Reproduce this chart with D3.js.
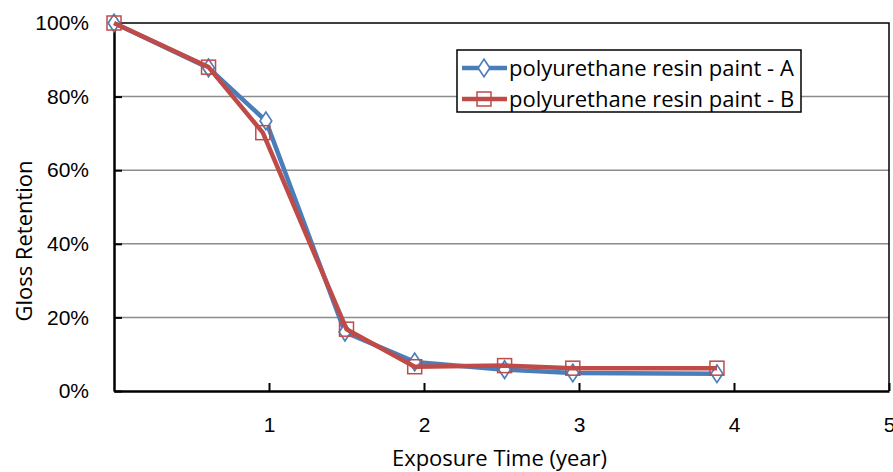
<!DOCTYPE html>
<html>
<head>
<meta charset="utf-8">
<script src="https://cdn.jsdelivr.net/npm/d3@7"></script>
<style>
  body { margin: 0; background: #fff; }
  text { font-family: "Open Sans", sans-serif; fill: #000; }
</style>
</head>
<body>
<div class="chart"></div>
<script>
// values
var seriesNames = ["polyurethane resin paint - A", "polyurethane resin paint - B"];
var yearsA = [0, 0.61, 0.98, 1.49, 1.94, 2.52, 2.96, 3.89];
var glossA = [100, 87.8, 73.4, 16.0, 7.9, 5.8, 4.9, 4.7];
var yearsB = [0, 0.61, 0.96, 1.50, 1.94, 2.52, 2.96, 3.89];
var glossB = [100, 88.0, 70.2, 16.8, 6.6, 6.9, 6.2, 6.2];
var xTicks = [1, 2, 3, 4, 5];
var yTicks = [0, 20, 40, 60, 80, 100];

var width = 893, height = 472;
var margin = {top: 23, right: 4, bottom: 81, left: 114};

var svg = d3.select(".chart")
        .append("svg")
        .attr("width", width)
        .attr("height", height);

var x = d3.scaleLinear().domain([0, 5]).range([margin.left, width - margin.right]);
var y = d3.scaleLinear().domain([0, 100]).range([height - margin.bottom, margin.top]);

// gridlines
svg.append("g")
        .selectAll("line")
        .data(yTicks.filter(function(d) { return d > 0 && d < 100; }))
        .enter()
        .append("line")
        .attr("x1", x(0))
        .attr("x2", x(5))
        .attr("y1", function(d) { return y(d); })
        .attr("y2", function(d) { return y(d); })
        .style("stroke", "#8c8c8c")
        .style("stroke-width", 1.5);

// plot border (top + right)
svg.append("path")
        .attr("d", "M" + x(0) + "," + y(100) + "H" + x(5) + "V" + y(0))
        .style("fill", "none")
        .style("stroke", "#000")
        .style("stroke-width", 1.5);

var xAxis = svg.append("g")
        .attr("transform", "translate(0," + y(0) + ")")
        .call(d3.axisBottom(x).tickValues(xTicks).tickSizeInner(-8).tickSizeOuter(0).tickPadding(26)
          .tickFormat(function(d) { return d; }));
var yAxis = svg.append("g")
        .attr("transform", "translate(" + x(0) + ",0)")
        .call(d3.axisLeft(y).tickValues(yTicks).tickSizeInner(-8).tickSizeOuter(0).tickPadding(25)
          .tickFormat(function(d) { return d + "%"; }));

[xAxis, yAxis].forEach(function(a) {
  a.select(".domain").style("stroke", "#000").style("stroke-width", 2.5);
  a.selectAll(".tick line").style("stroke", "#000").style("stroke-width", 2);
  a.selectAll("text").style("font-size", "21px").style("font-family", "'Liberation Sans', sans-serif");
});

// axis titles
svg.append("text")
        .attr("x", x(2.5) - 2)
        .attr("y", 466)
        .style("text-anchor", "middle")
        .style("font-size", "22px")
        .text("Exposure Time (year)");

svg.append("text")
        .attr("transform", "translate(32," + 241 + ") rotate(-90)")
        .style("text-anchor", "middle")
        .style("font-size", "22px")
        .text("Gloss Retention");

var line = d3.line()
        .x(function(d) { return x(d[0]); })
        .y(function(d) { return y(d[1]); });

var dataA = d3.zip(yearsA, glossA);
var dataB = d3.zip(yearsB, glossB);

var colorA = "#4a7ebb", colorB = "#be4b48";

// series A
svg.append("path")
        .datum(dataA)
        .attr("d", line)
        .style("fill", "none")
        .style("stroke", colorA)
        .style("stroke-width", 4.5)
        .style("stroke-linejoin", "round");
var diamond = d3.symbol().type(d3.symbolDiamond).size(90);
svg.append("g")
        .selectAll("path")
        .data(dataA)
        .enter()
        .append("path")
        .attr("d", diamond)
        .attr("transform", function(d) { return "translate(" + x(d[0]) + "," + y(d[1]) + ") scale(1.15,1)"; })
        .style("fill", "#fff")
        .style("stroke", colorA)
        .style("stroke-width", 1.5);

// series B
svg.append("path")
        .datum(dataB)
        .attr("d", line)
        .style("fill", "none")
        .style("stroke", colorB)
        .style("stroke-width", 4.5)
        .style("stroke-linejoin", "round");
svg.append("g")
        .selectAll("rect")
        .data(dataB)
        .enter()
        .append("rect")
        .attr("x", function(d) { return x(d[0]) - 7; })
        .attr("y", function(d) { return y(d[1]) - 7; })
        .attr("width", 14)
        .attr("height", 14)
        .style("fill", "none")
        .style("stroke", colorB)
        .style("stroke-width", 1.5);

// legend
var legend = svg.append("g").attr("transform", "translate(457,50)");
legend.append("rect")
        .attr("width", 344)
        .attr("height", 62)
        .style("fill", "#fff")
        .style("stroke", "#000")
        .style("stroke-width", 1.5);

var rows = legend.selectAll(".row")
        .data(seriesNames)
        .enter()
        .append("g")
        .attr("class", "row")
        .attr("transform", function(d, i) { return "translate(0," + (18 + i * 31) + ")"; });

rows.append("line")
        .attr("x1", 5)
        .attr("x2", 50)
        .style("stroke", function(d, i) { return i ? colorB : colorA; })
        .style("stroke-width", 4.5);

rows.filter(function(d, i) { return i === 0; })
        .append("path")
        .attr("d", diamond)
        .attr("transform", "translate(27,0) scale(1.15,1)")
        .style("fill", "#fff")
        .style("stroke", colorA)
        .style("stroke-width", 1.5);

rows.filter(function(d, i) { return i === 1; })
        .append("rect")
        .attr("x", 20).attr("y", -7)
        .attr("width", 14).attr("height", 14)
        .style("fill", "none")
        .style("stroke", colorB)
        .style("stroke-width", 1.5);

rows.append("text")
        .attr("x", 52)
        .attr("dy", "0.35em")
        .style("font-size", "22px")
        .text(function(d) { return d; });
</script>
</body>
</html>
